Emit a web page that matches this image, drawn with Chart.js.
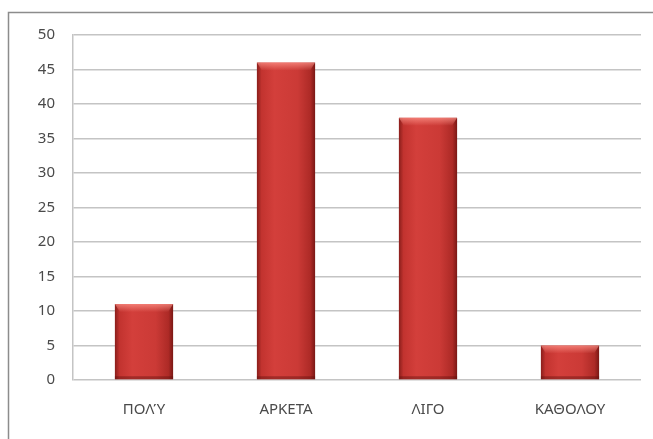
<!DOCTYPE html>
<html>
<head>
<meta charset="utf-8">
<script src="https://cdn.jsdelivr.net/npm/chart.js@4.4.0/dist/chart.umd.min.js"></script>
<style>
  html, body { margin: 0; padding: 0; background: #fff; }
  #wrap { width: 653px; height: 439px; position: relative; }
</style>
</head>
<body>
<div id="wrap"><canvas id="barChart" width="653" height="439"></canvas></div>
<script>
// Δεδομένα του γραφήματος
const categories = ['ΠΟΛΎ', 'ΑΡΚΕΤΑ', 'ΛΙΓΟ', 'ΚΑΘΟΛΟΥ'];
const values = [11, 46, 38, 5];
const yTicks = [0, 5, 10, 15, 20, 25, 30, 35, 40, 45, 50];
const BAR_PCT = 0.41;

// πλαίσιο γύρω από το γράφημα
const framePlugin = {
  id: 'frame',
  beforeDraw(chart) {
    const c = chart.ctx;
    c.save();
    c.strokeStyle = '#8c8c8c';
    c.lineWidth = 1.5;
    c.beginPath();
    c.moveTo(8.5, 439);
    c.lineTo(8.5, 12.5);
    c.lineTo(653, 12.5);
    c.stroke();
    c.restore();
  }
};

// οριζόντια διαβάθμιση για κάθε μπάρα (εφέ κυλίνδρου)
function barGradient(context) {
  const chart = context.chart;
  const xs = chart.scales.x;
  if (!xs || context.dataIndex === undefined) return '#c93a36';
  const cx = xs.getPixelForValue(context.dataIndex);
  const w = (xs.width / categories.length) * BAR_PCT;
  if (!isFinite(cx) || !isFinite(w) || w <= 0) return '#c93a36';
  const g = chart.ctx.createLinearGradient(cx - w / 2, 0, cx + w / 2, 0);
  g.addColorStop(0, '#8a1e1b');
  g.addColorStop(0.08, '#c2332f');
  g.addColorStop(0.3, '#d33f3b');
  g.addColorStop(0.7, '#cb3a36');
  g.addColorStop(0.92, '#ad2a26');
  g.addColorStop(1, '#7a1815');
  return g;
}

// λοξή ανταύγεια στην κορυφή
const bevelPlugin = {
  id: 'bevel',
  afterDatasetsDraw(chart) {
    const c = chart.ctx;
    chart.getDatasetMeta(0).data.forEach(bar => {
      const left = bar.x - bar.width / 2, right = bar.x + bar.width / 2;
      const g = c.createLinearGradient(0, bar.y, 0, bar.y + 8);
      g.addColorStop(0, 'rgba(255,150,140,0.7)');
      g.addColorStop(1, 'rgba(255,150,140,0)');
      c.save();
      c.fillStyle = g;
      c.beginPath();
      c.moveTo(left, bar.y);
      c.lineTo(right, bar.y);
      c.lineTo(right - 5, bar.y + 8);
      c.lineTo(left + 5, bar.y + 8);
      c.closePath();
      c.fill();
      c.fillStyle = 'rgba(90,15,12,0.4)';
      c.fillRect(left, bar.base - 3, bar.width, 3);
      c.restore();
    });
  }
};

new Chart(document.getElementById('barChart'), {
  type: 'bar',
  data: {
    labels: categories,
    datasets: [{
      data: values,
      backgroundColor: barGradient,
      borderWidth: 0,
      barPercentage: BAR_PCT,
      categoryPercentage: 1
    }]
  },
  options: {
    responsive: false,
    animation: false,
    layout: { padding: { top: 35, right: 12, left: 0, bottom: 0 } },
    plugins: {
      legend: { display: false },
      tooltip: { enabled: false }
    },
    scales: {
      x: {
        grid: { display: false },
        border: { display: false },
        ticks: {
          color: '#4a4a4a',
          font: { family: 'Noto Sans', size: 15 },
          padding: 13,
          maxRotation: 0
        },
        afterFit(scale) { scale.height = 59; }
      },
      y: {
        min: 0,
        max: 50,
        afterBuildTicks(scale) { scale.ticks = yTicks.map(v => ({ value: v })); },
        grid: { color: '#c4c4c4', lineWidth: 1.5, drawTicks: false },
        border: { display: true, color: '#c4c4c4', width: 1.5 },
        ticks: {
          color: '#4a4a4a',
          font: { family: 'Noto Sans', size: 15 },
          padding: 18
        },
        afterFit(scale) { scale.width = 73; }
      }
    }
  },
  plugins: [framePlugin, bevelPlugin]
});
</script>
</body>
</html>
